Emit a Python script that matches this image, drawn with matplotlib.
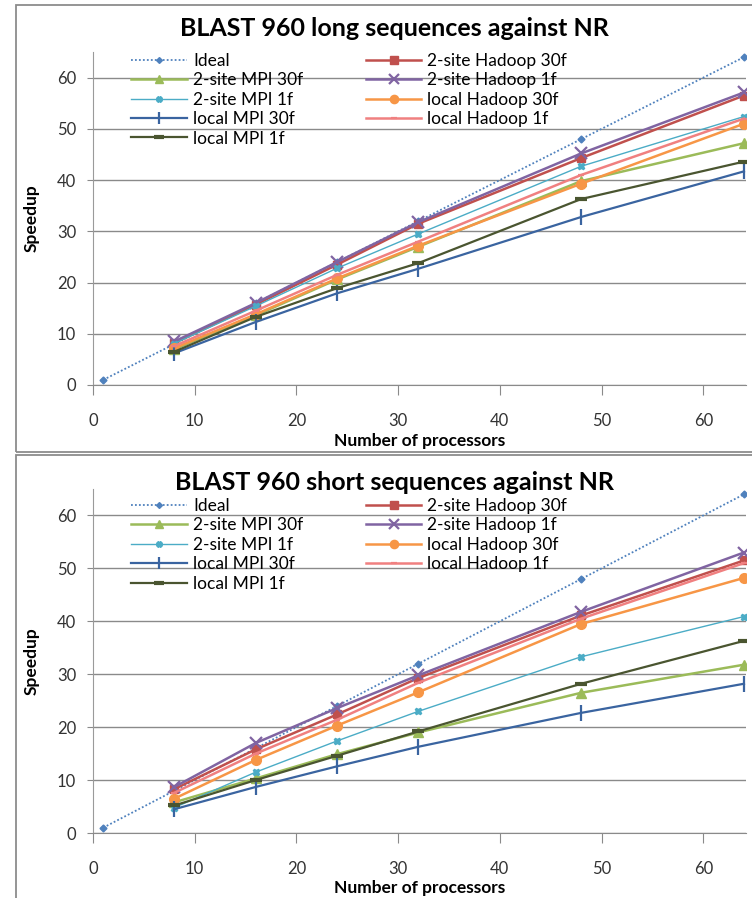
import matplotlib
matplotlib.use("Agg")
import matplotlib.pyplot as plt
from matplotlib.patches import Rectangle

plt.rcParams['font.family'] = ['Lato', 'DejaVu Sans']

# processor counts
procs_ideal = [1, 8, 16, 24, 32, 48, 64]
procs = [8, 16, 24, 32, 48, 64]
ideal = [1, 8, 16, 24, 32, 48, 64]

labels = ["Ideal", "2-site Hadoop 30f", "2-site MPI 30f", "2-site Hadoop 1f",
          "2-site MPI 1f", "local Hadoop 30f", "local MPI 30f",
          "local Hadoop 1f", "local MPI 1f"]

# long sequences
hadoop2_30_long = [8.2, 15.7, 23.5, 31.5, 44.3, 56.5]
mpi2_30_long = [7.0, 13.6, 20.6, 27.0, 39.8, 47.2]
hadoop2_1_long = [8.5, 16.0, 24.0, 31.8, 45.2, 57.1]
mpi2_1_long = [8.1, 15.4, 22.8, 29.5, 42.7, 52.4]
lhadoop_30_long = [7.2, 13.8, 20.8, 27.2, 39.3, 51.0]
lmpi_30_long = [6.2, 12.3, 17.9, 22.7, 32.8, 41.7]
lhadoop_1_long = [7.6, 14.5, 21.5, 28.0, 41.0, 52.0]
lmpi_1_long = [6.5, 13.3, 18.9, 23.8, 36.3, 43.6]

# short sequences
hadoop2_30_short = [8.3, 15.8, 22.4, 29.3, 41.1, 51.5]
mpi2_30_short = [5.8, 10.3, 14.9, 19.0, 26.5, 31.8]
hadoop2_1_short = [8.7, 17.0, 23.6, 29.8, 41.8, 53.0]
mpi2_1_short = [4.8, 11.5, 17.4, 23.0, 33.3, 40.9]
lhadoop_30_short = [6.5, 13.8, 20.3, 26.6, 39.5, 48.2]
lmpi_30_short = [4.5, 8.7, 12.6, 16.3, 22.7, 28.2]
lhadoop_1_short = [7.6, 15.0, 21.4, 28.4, 40.5, 51.0]
lmpi_1_short = [5.2, 10.0, 14.6, 19.2, 28.2, 36.3]

# style per series (color, marker, markersize, linewidth)
styles = [
    ('#4F81BD', 'D', 3.5, 1.3),
    ('#C0504D', 's', 6, 1.8),
    ('#9BBB59', '^', 7, 1.8),
    ('#8064A2', 'x', 8, 1.8),
    ('#4BACC6', 'X', 5, 1.0),
    ('#F79646', 'o', 7, 1.8),
    ('#3A64A0', '|', 11, 1.6),
    ('#F08080', '_', 5, 1.8),
    ('#4A5530', '_', 9, 1.6),
]

fig = plt.figure(figsize=(7.52, 8.98), dpi=100)

# panel borders
fig.patches.append(Rectangle((16 / 752, 1 - 452 / 898), 1.0, 447 / 898,
                             transform=fig.transFigure, fill=False,
                             edgecolor='#8c8c8c', linewidth=1.3))
fig.patches.append(Rectangle((16 / 752, -0.05), 1.0, 1 - 455 / 898 + 0.05,
                             transform=fig.transFigure, fill=False,
                             edgecolor='#8c8c8c', linewidth=1.3))

panels = [
    ("BLAST 960 long sequences against NR", 385, 333,
     [hadoop2_30_long, mpi2_30_long, hadoop2_1_long, mpi2_1_long,
      lhadoop_30_long, lmpi_30_long, lhadoop_1_long, lmpi_1_long],
     28, -0.145, 1.045),
    ("BLAST 960 short sequences against NR", 833, 344,
     [hadoop2_30_short, mpi2_30_short, hadoop2_1_short, mpi2_1_short,
      lhadoop_30_short, lmpi_30_short, lhadoop_1_short, lmpi_1_short],
     482, -0.136, 1.02),
]

for title, y0, h, series, ty, xl, ly in panels:
    ax = fig.add_axes([93 / 752, 1 - y0 / 898, 653 / 752, h / 898])
    handles = []
    c, m, ms, lw = styles[0]
    ln, = ax.plot(procs_ideal, ideal, color=c, marker=m, markersize=ms,
                  linewidth=lw, linestyle=(0, (1, 1.2)), label=labels[0])
    handles.append(ln)
    for vals, lab, (c, m, ms, lw) in zip(series, labels[1:], styles[1:]):
        mew = 1.6 if m in ('x', '|', '_') else 1.0
        if lab == "local MPI 1f":
            mew = 3
        ln, = ax.plot(procs, vals, color=c, marker=m, markersize=ms,
                      linewidth=lw, markeredgewidth=mew, label=lab)
        handles.append(ln)

    ax.set_xlim(0, 64.2)
    ax.set_ylim(0, 65)
    ax.set_xticks(range(0, 61, 10))
    ax.set_yticks(range(0, 61, 10))
    ax.grid(axis='y', color='#8a8a8a', linewidth=1.0)
    ax.set_axisbelow(True)
    for s in ['top', 'right']:
        ax.spines[s].set_visible(False)
    ax.spines['left'].set_color('#9a9a9a')
    ax.spines['bottom'].set_color('#8a8a8a')
    ax.tick_params(axis='x', length=7, pad=13, color='#8a8a8a',
                   labelsize=12, labelcolor='#333333')
    ax.tick_params(axis='y', length=4, pad=8, color='#8a8a8a',
                   labelsize=12, labelcolor='#333333')
    ax.set_xlabel("Number of processors", fontsize=12.5, fontweight='bold')
    ax.xaxis.set_label_coords(0.5, xl)
    ax.set_ylabel("Speedup", fontsize=12.5, fontweight='bold')
    ax.yaxis.set_label_coords(-0.081, 0.5)

    # legend in Excel's row order -> reorder for column filling
    order = [0, 2, 4, 6, 8, 1, 3, 5, 7]
    ax.legend([handles[i] for i in order], [labels[i] for i in order],
              ncol=2, loc='upper left', bbox_to_anchor=(0.035, ly),
              frameon=False, fontsize=12.5, handlelength=3.2,
              handletextpad=0.35, columnspacing=3.6, labelspacing=0.2,
              markerscale=0.85)

    fig.text(0.525, 1 - ty / 898, title, ha='center', va='center',
             fontsize=18, fontweight='bold')

fig.savefig("out.png", dpi=100)
